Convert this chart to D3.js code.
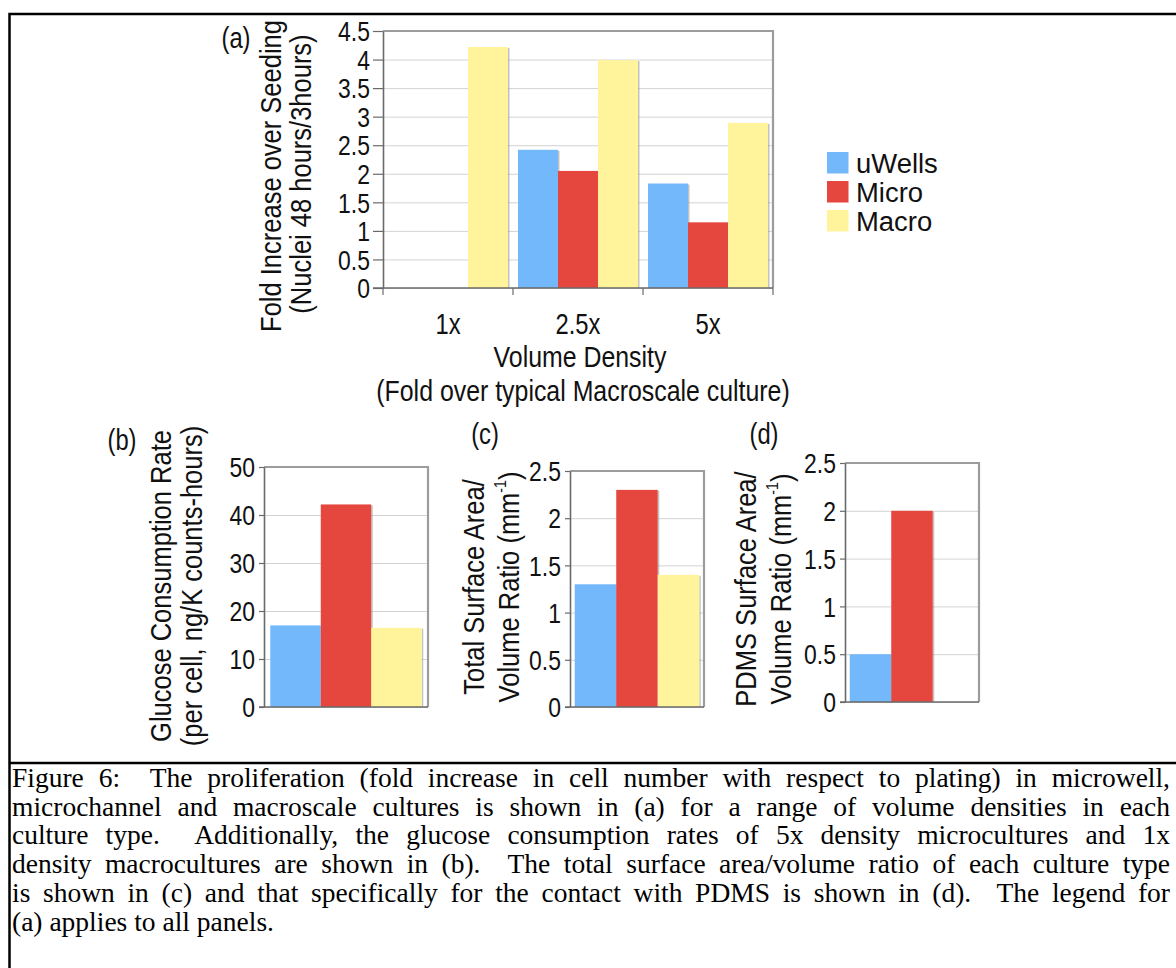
<!DOCTYPE html>
<html>
<head>
<meta charset="utf-8">
<script src="https://cdn.jsdelivr.net/npm/d3@7"></script>
<style>
  body { margin: 0; background: #fff; }
  svg { display: block; }
</style>
</head>
<body>
<div id="chart"></div>
<script>
// ---- data ----
const cultures = ["uWells", "Micro", "Macro"];
const densities = ["1x", "2.5x", "5x"];
const foldUWells = [0, 2.42, 1.83];
const foldMicro = [0, 2.05, 1.15];
const foldMacro = [4.22, 3.99, 2.89];
const foldTicks = [0, 0.5, 1, 1.5, 2, 2.5, 3, 3.5, 4, 4.5];
const glucoseRate = [17.0, 42.2, 16.5];
const glucoseTicks = [0, 10, 20, 30, 40, 50];
const totalRatio = [1.3, 2.3, 1.4];
const pdmsRatio = [0.5, 2.0, 0];
const ratioTicks = [0, 0.5, 1, 1.5, 2, 2.5];
const captionLines = [
    "Figure 6:  The proliferation (fold increase in cell number with respect to plating) in microwell,",
    "microchannel and macroscale cultures is shown in (a) for a range of volume densities in each",
    "culture type.  Additionally, the glucose consumption rates of 5x density microcultures and 1x",
    "density macrocultures are shown in (b).  The total surface area/volume ratio of each culture type",
    "is shown in (c) and that specifically for the contact with PDMS is shown in (d).  The legend for",
    "(a) applies to all panels."
];

const width = 1176, height = 968;
const SANS = "'Liberation Sans', Arial, Helvetica, sans-serif";
const SERIF = "'Liberation Serif', 'Times New Roman', Times, serif";
const NARROW = 0.82; // chart lettering is condensed along the reading direction

const color = d3.scaleOrdinal().domain(cultures).range(["#74b8fc", "#e5473f", "#fff39b"]);

const svg = d3.select("#chart").append("svg")
    .attr("width", width)
    .attr("height", height);

// outer figure box + caption separator
svg.append("path")
    .attr("d", "M9.5,968 V14 H1176 M9.5,763 H1176")
    .attr("fill", "none")
    .attr("stroke", "#000")
    .attr("stroke-width", 2.5);

// horizontal, condensed label
function flatText(g, x, y, str, size, squeeze = NARROW) {
    return g.append("text")
        .attr("transform", `translate(${x},${y}) scale(${squeeze},1)`)
        .attr("text-anchor", "middle")
        .attr("dominant-baseline", "central")
        .style("font-family", SANS)
        .style("font-size", size + "px")
        .attr("fill", "#111")
        .text(str);
}

// rotated axis title line
function sideTitle(g, x, y, str, sup) {
    const t = g.append("text")
        .attr("transform", `translate(${x},${y}) rotate(-90) scale(0.88,1)`)
        .attr("text-anchor", "middle")
        .attr("dominant-baseline", "central")
        .style("font-family", SANS)
        .style("font-size", "29px")
        .attr("fill", "#111")
        .text(str);
    if (sup) {
        t.append("tspan").attr("baseline-shift", "super").style("font-size", "16px").text(sup);
        t.append("tspan").text(")");
    }
    return t;
}

// grid, frame and left axis around a plot box
function plotFrame(g, x0, x1, y, ticks, tickLen, labelGap) {
    const [yb, yt] = y.range();
    g.append("g")
        .attr("transform", `translate(${x0},0)`)
        .call(d3.axisLeft(y).tickValues(ticks).tickSize(-(x1 - x0)).tickFormat(""))
        .call(s => s.select(".domain").remove())
        .selectAll("line").attr("stroke", "#d3d3d3");
    g.append("path")
        .attr("d", `M${x0},${yt} H${x1} V${yb}`)
        .attr("fill", "none")
        .attr("stroke", "#9c9c9c")
        .attr("stroke-width", 2.2);
    return () => {
        const ax = g.append("g")
            .attr("transform", `translate(${x0},0)`)
            .call(d3.axisLeft(y).tickValues(ticks).tickSize(tickLen).tickSizeOuter(0).tickFormat(d3.format("~g")));
        ax.select(".domain").attr("stroke", "#6a6a6a").attr("stroke-width", 1.6);
        ax.selectAll(".tick line").attr("stroke", "#6a6a6a").attr("stroke-width", 1.2);
        ax.selectAll(".tick text")
            .attr("x", null).attr("dy", null)
            .attr("dominant-baseline", "central")
            .attr("transform", `translate(${-labelGap},0) scale(0.85,1)`)
            .style("font-family", SANS)
            .style("font-size", "27px")
            .attr("fill", "#111");
        g.append("line")
            .attr("x1", x0 - tickLen).attr("x2", x1)
            .attr("y1", yb).attr("y2", yb)
            .attr("stroke", "#6a6a6a").attr("stroke-width", 1.6);
    };
}

function drawBars(g, rows) {
    const live = rows.filter(d => d.h > 0);
    g.selectAll(null).data(live).enter().append("rect")
        .attr("x", d => d.x + d.w)
        .attr("y", d => d.y + 1)
        .attr("width", 1.5)
        .attr("height", d => d.h - 1)
        .attr("fill", "#8f8f8f")
        .attr("opacity", 0.55);
    g.selectAll(null).data(live).enter().append("rect")
        .attr("x", d => d.x)
        .attr("y", d => d.y)
        .attr("width", d => d.w)
        .attr("height", d => d.h)
        .attr("fill", d => color(d.culture));
}

// ---- panel (a): grouped bars ----
const pa = svg.append("g");
const xa0 = d3.scaleBand().domain(densities).range([383, 773]).paddingInner(0.077).paddingOuter(0.0385);
const xa1 = d3.scaleBand().domain(cultures).range([0, xa0.bandwidth()]);
const ya = d3.scaleLinear().domain([0, 4.5]).range([288, 31]);
const finishA = plotFrame(pa, 383, 773, ya, foldTicks, 10, 13);
const foldSeries = [foldUWells, foldMicro, foldMacro];
const rowsA = [];
densities.forEach((d, i) => cultures.forEach((c, j) => {
    const v = foldSeries[j][i];
    rowsA.push({ culture: c, x: xa0(d) + xa1(c), w: xa1.bandwidth(), y: ya(v), h: ya(0) - ya(v) });
}));
drawBars(pa, rowsA);
finishA();
// category boundary ticks
const bounds = [xa0.range()[0]].concat(densities.map(d => xa0(d) + xa0.bandwidth() + xa0.step() * xa0.paddingInner() / 2));
pa.selectAll(null).data(bounds).enter().append("line")
    .attr("x1", d => d).attr("x2", d => d)
    .attr("y1", ya(0)).attr("y2", ya(0) + 7)
    .attr("stroke", "#6a6a6a").attr("stroke-width", 1.2);
densities.forEach(d => flatText(pa, xa0(d) + xa0.bandwidth() / 2, 324, d, 29));
flatText(pa, 580, 357, "Volume Density", 30, 0.83);
flatText(pa, 583, 391, "(Fold over typical Macroscale culture)", 30, 0.83);
flatText(pa, 236, 38, "(a)", 29);
sideTitle(pa, 271, 176, "Fold Increase over Seeding");
sideTitle(pa, 301, 174, "(Nuclei 48 hours/3hours)");

// legend
const legend = svg.append("g").attr("transform", "translate(827,152)");
cultures.forEach((c, i) => {
    legend.append("rect")
        .attr("x", 0).attr("y", i * 29)
        .attr("width", 21.5).attr("height", 21.5)
        .attr("fill", color(c));
    legend.append("text")
        .attr("transform", `translate(29,${i * 29 + 11}) scale(0.98,1)`)
        .attr("dominant-baseline", "central")
        .style("font-family", SANS)
        .style("font-size", "28px")
        .attr("fill", "#111")
        .text(c);
});

// ---- panels (b)-(d): one bar per culture ----
function singlePanel(box, values, ticks, pad) {
    const g = svg.append("g");
    const x = d3.scaleBand().domain(cultures).range([box.left, box.right]).paddingOuter(pad);
    const y = d3.scaleLinear().domain([ticks[0], ticks[ticks.length - 1]]).range([box.bottom, box.top]);
    const finish = plotFrame(g, box.left, box.right, y, ticks, 5, 9);
    drawBars(g, cultures.map((c, i) => ({
        culture: c, x: x(c), w: x.bandwidth(), y: y(values[i]), h: y(0) - y(values[i])
    })));
    finish();
    return g;
}

const pb = singlePanel({ left: 264, right: 428, top: 467, bottom: 707 }, glucoseRate, glucoseTicks, 0.124);
flatText(pb, 122, 440, "(b)", 29);
sideTitle(pb, 161, 586, "Glucose Consumption Rate");
sideTitle(pb, 192, 586, "(per cell, ng/K counts-hours)");

const pc = singlePanel({ left: 570, right: 704, top: 471, bottom: 707 }, totalRatio, ratioTicks, 0.114);
flatText(pc, 485, 434, "(c)", 29);
sideTitle(pc, 474, 587, "Total Surface Area/");
sideTitle(pc, 509, 587, "Volume Ratio (mm", "-1");

const pd = singlePanel({ left: 845, right: 979, top: 463, bottom: 702 }, pdmsRatio, ratioTicks, 0.114);
flatText(pd, 764, 434, "(d)", 29);
sideTitle(pd, 746, 589, "PDMS Surface Area/");
sideTitle(pd, 781, 589, "Volume Ratio (mm", "-1");

// ---- caption, justified word by word ----
const cap = svg.append("g")
    .style("font-family", SERIF)
    .style("font-size", "27.5px")
    .attr("fill", "#000");
const capLeft = 12, capRight = 1170, capBase = 787, capLead = 28.7;
const probe = cap.append("text");
const measure = s => { probe.text(s); return probe.node().getComputedTextLength(); };
const spaceW = measure("a a") - measure("aa");
captionLines.forEach((line, i) => {
    const words = line.split(" ");
    const widths = words.map(w => w ? measure(w) : 0);
    const total = d3.sum(widths);
    const last = i === captionLines.length - 1;
    const gap = last ? spaceW : (capRight - capLeft - total) / (words.length - 1);
    let x = capLeft;
    words.forEach((w, k) => {
        if (w) cap.append("text").attr("x", x).attr("y", capBase + i * capLead).text(w);
        x += widths[k] + gap;
    });
});
probe.remove();
</script>
</body>
</html>
